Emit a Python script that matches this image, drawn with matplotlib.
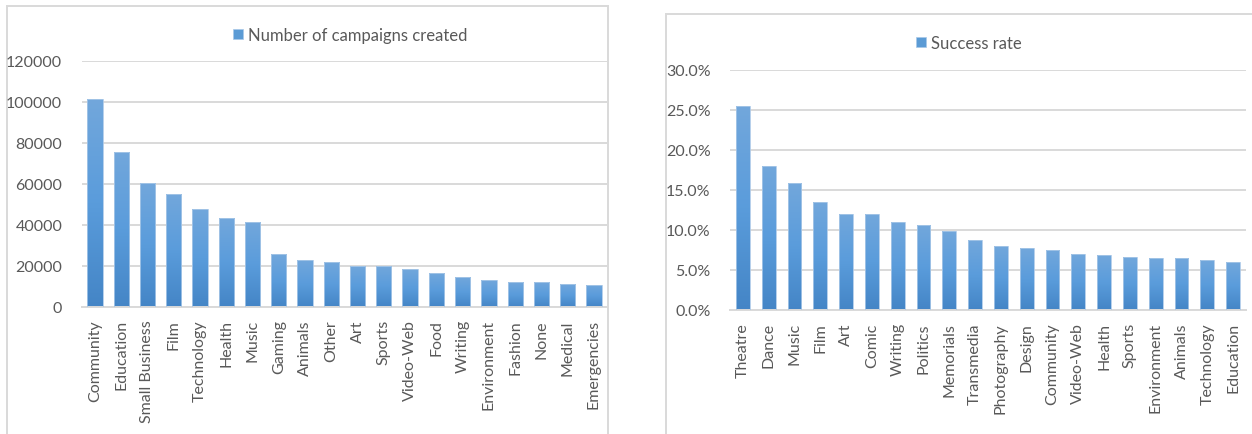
import numpy as np
import matplotlib
matplotlib.use("Agg")
import matplotlib.pyplot as plt
from matplotlib.patches import Rectangle, Patch
from matplotlib.colors import LinearSegmentedColormap
from matplotlib.ticker import FuncFormatter

plt.rcParams["font.family"] = ["Lato", "DejaVu Sans"]

# Campaign counts per category
count_categories = ["Community", "Education", "Small Business", "Film", "Technology",
                    "Health", "Music", "Gaming", "Animals", "Other", "Art", "Sports",
                    "Video-Web", "Food", "Writing", "Environment", "Fashion", "None",
                    "Medical", "Emergencies"]
count_values = [101200, 75700, 60300, 55100, 47600, 43200, 41400, 25800, 22600, 21600,
                20100, 19800, 18300, 16300, 14500, 13100, 12100, 12100, 11300, 10800]

# Success rate per category (fraction)
rate_categories = ["Theatre", "Dance", "Music", "Film", "Art", "Comic", "Writing",
                   "Politics", "Memorials", "Transmedia", "Photography", "Design",
                   "Community", "Video-Web", "Health", "Sports", "Environment",
                   "Animals", "Technology", "Education"]
rate_values = [0.254, 0.180, 0.158, 0.134, 0.120, 0.119, 0.109, 0.106, 0.098, 0.087,
               0.079, 0.077, 0.0745, 0.0695, 0.068, 0.066, 0.065, 0.064, 0.062, 0.059]

TEXT = "#595959"
GRID = "#d9d9d9"
bar_cmap = LinearSegmentedColormap.from_list(
    "excel_blue", ["#4485c6", "#5a9cdb", "#72a7dc"])
gradient = np.linspace(0, 1, 256).reshape(-1, 1)


def gradient_bars(ax, values, width):
    bars = ax.bar(range(len(values)), values, width=width, color="none",
                  edgecolor="#a9c8e8", linewidth=0.6, zorder=3)
    for b in bars:
        x0, y0 = b.get_x(), b.get_y()
        im = ax.imshow(gradient, cmap=bar_cmap, origin="lower", aspect="auto",
                       extent=(x0, x0 + b.get_width(), y0, y0 + b.get_height()),
                       zorder=2, interpolation="bilinear")
        im.set_clip_path(b)
    return bars


def style_axis(ax, categories, ymax, step):
    ax.set_xlim(-0.5, len(categories) - 0.5)
    ax.set_ylim(0, ymax)
    ax.set_yticks(np.arange(0, ymax + step / 2, step))
    ax.set_xticks(range(len(categories)))
    ax.set_xticklabels(categories, rotation=90, fontsize=11.5, color=TEXT)
    ax.tick_params(axis="y", labelsize=11.5, labelcolor=TEXT, length=0, pad=14)
    ax.tick_params(axis="x", length=0, pad=9)
    ax.grid(axis="y", color=GRID, linewidth=1.4, zorder=0)
    ax.set_axisbelow(True)
    for side in ["top", "right", "left"]:
        ax.spines[side].set_visible(False)
    ax.spines["bottom"].set_color(GRID)
    ax.spines["bottom"].set_linewidth(1.4)


fig = plt.figure(figsize=(12.52, 4.35), dpi=100)

# chart frames
fig.add_artist(Rectangle((0.0058, -0.05), 0.4798, 1.0346, transform=fig.transFigure,
                         facecolor="white", edgecolor=GRID, linewidth=1.4, zorder=0))
fig.add_artist(Rectangle((0.5317, -0.05), 0.5, 1.0148, transform=fig.transFigure,
                         facecolor="white", edgecolor=GRID, linewidth=1.4, zorder=0))

ax1 = fig.add_axes([0.0653, 0.2926, 0.4196, 0.5655])
ax1.patch.set_alpha(0)
gradient_bars(ax1, count_values, 0.58)
style_axis(ax1, count_categories, 120000, 20000)

ax2 = fig.add_axes([0.5831, 0.2857, 0.4121, 0.5522])
ax2.patch.set_alpha(0)
gradient_bars(ax2, rate_values, 0.53)
style_axis(ax2, rate_categories, 0.30, 0.05)
ax2.yaxis.set_major_formatter(FuncFormatter(lambda v, _: f"{v * 100:.1f}%"))

for ax, label, anchor in [(ax1, "Number of campaigns created", (0.2796, 0.9172)),
                          (ax2, "Success rate", (0.774, 0.8989))]:
    handle = Patch(facecolor="#5b9bd5", edgecolor="#a9c8e8", linewidth=0.5)
    ax.legend([handle], [label], loc="center", bbox_to_anchor=anchor,
              bbox_transform=fig.transFigure, frameon=False, fontsize=12,
              labelcolor=TEXT, handlelength=0.6, handleheight=0.6,
              handletextpad=0.3, borderpad=0)

fig.savefig("out.png", dpi=100, facecolor="white")
